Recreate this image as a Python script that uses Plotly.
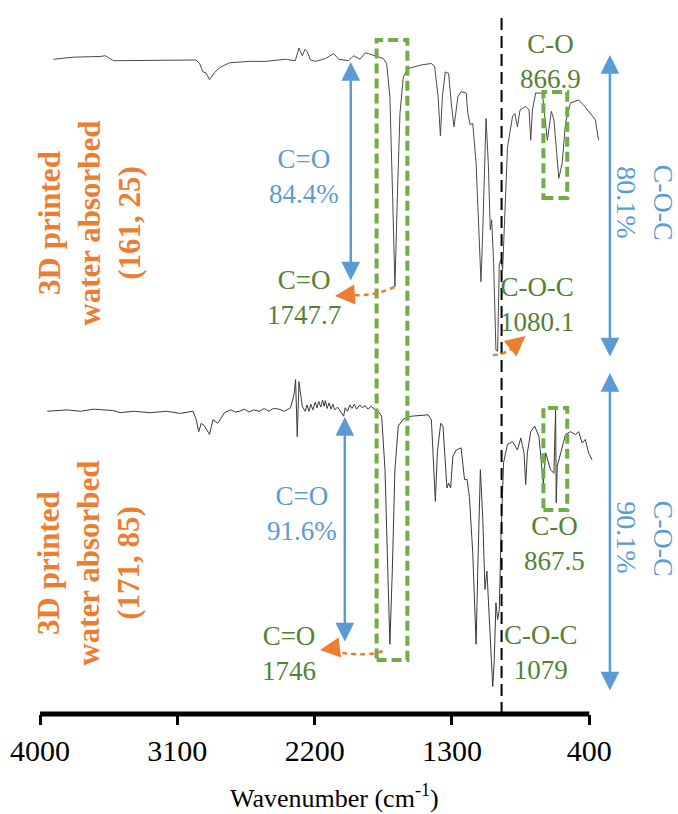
import plotly.graph_objects as go

# ---------------- data ----------------
tick_vals = [4000, 3100, 2200, 1300, 400]
tick_text = ["4000", "3100", "2200", "1300", "400"]

# upper spectrum: 3D printed, water absorbed (161, 25)  (offset transmittance, a.u.)
wn_top = [3913, 3779, 3605, 3572, 3518, 3388, 3173, 2978, 2954, 2932, 2913, 2889, 2856, 2824,
          2759, 2628, 2522, 2392, 2327, 2303, 2281, 2264, 2249, 2227, 2195, 2130, 2075, 2042,
          1977, 1945, 1902, 1869, 1847, 1793, 1750, 1728, 1707, 1689, 1674, 1658, 1641, 1619,
          1587, 1500, 1435, 1414, 1391, 1376, 1363, 1344, 1322, 1305, 1287, 1261, 1240, 1207,
          1196, 1181, 1164, 1142, 1110, 1098, 1077, 1062, 1049, 1040, 1027, 1012, 1001, 990,
          979, 968, 958, 936, 903, 888, 871, 854, 817, 795, 784, 773, 752, 708, 675, 649, 632,
          610, 600, 578, 556, 524, 470, 437, 393, 361, 339]
t_top = [93.0, 93.3, 93.4, 93.5, 92.8, 92.8, 92.8, 92.9, 92.4, 91.2, 91.1, 90.1, 91.1, 91.8,
         92.5, 92.7, 92.7, 93.0, 92.8, 94.6, 93.5, 94.4, 94.1, 92.9, 92.7, 93.1, 93.8, 93.0,
         92.8, 93.5, 93.0, 93.9, 93.8, 93.4, 93.1, 92.4, 87.7, 73.5, 60.7, 73.5, 85.3, 90.5,
         91.7, 92.2, 92.4, 92.0, 87.7, 82.1, 87.7, 91.2, 91.0, 86.8, 83.4, 87.7, 88.4, 88.2,
         85.3, 83.7, 83.9, 78.2, 61.4, 68.8, 84.6, 78.2, 68.8, 70.2, 64.0, 51.7, 51.5, 64.0,
         64.5, 63.1, 68.8, 80.6, 84.9, 85.3, 83.4, 85.8, 86.3, 85.8, 81.5, 85.8, 88.2, 88.2,
         81.5, 85.6, 84.4, 79.2, 76.1, 78.2, 83.9, 86.8, 87.2, 86.5, 85.3, 84.4, 81.5]

# lower spectrum: 3D printed, water absorbed (171, 85)
wn_bot = [3952, 3822, 3735, 3648, 3518, 3475, 3388, 3279, 3171, 3080, 2997, 2976, 2960, 2943,
          2921, 2889, 2867, 2835, 2791, 2750, 2720, 2693, 2660, 2630, 2600, 2563, 2530, 2500,
          2470, 2433, 2400, 2358, 2335, 2325, 2314, 2303, 2281, 2262, 2250, 2238, 2225, 2212,
          2196, 2185, 2173, 2160, 2148, 2138, 2130, 2118, 2105, 2093, 2080, 2068, 2050, 2030,
          2010, 2000, 1985, 1970, 1956, 1940, 1925, 1905, 1888, 1869, 1850, 1830, 1804, 1780,
          1761, 1739, 1722, 1707, 1691, 1674, 1652, 1619, 1565, 1457, 1435, 1424, 1409, 1396,
          1374, 1359, 1344, 1333, 1322, 1309, 1294, 1272, 1240, 1218, 1201, 1186, 1164, 1142,
          1131, 1114, 1098, 1084, 1071, 1055, 1033, 1023, 1012, 1001, 990, 979, 962, 936, 903,
          871, 849, 828, 817, 806, 784, 758, 730, 701, 686, 654, 632, 621, 617, 610, 589, 556,
          524, 491, 470, 447, 426, 405, 382]
t_bot = [43.0, 43.2, 43.0, 43.3, 43.1, 42.8, 43.0, 42.8, 43.0, 42.7, 43.0, 41.8, 40.1, 41.3,
         40.9, 39.7, 41.8, 41.3, 42.8, 43.2, 42.9, 43.0, 43.3, 42.9, 43.2, 43.0, 43.4, 43.0,
         43.4, 43.3, 43.0, 43.5, 45.4, 47.5, 39.4, 47.2, 43.7, 43.0, 43.9, 43.0, 44.0, 43.2,
         44.3, 43.5, 44.4, 43.6, 44.6, 43.7, 44.5, 43.4, 44.2, 43.3, 44.0, 43.2, 43.6, 42.9,
         42.3, 43.5, 43.0, 43.9, 43.4, 44.0, 43.3, 43.9, 43.5, 43.8, 43.3, 43.7, 43.2, 42.9,
         42.3, 34.7, 20.5, 9.9, 20.5, 34.7, 40.9, 41.9, 42.3, 42.5, 41.8, 37.1, 30.2, 37.1,
         41.3, 40.9, 34.7, 32.1, 32.8, 32.1, 36.6, 37.5, 37.8, 33.3, 33.3, 30.9, 22.9, 9.9,
         20.5, 34.7, 27.6, 17.7, 20.3, 13.4, 3.9, 7.7, 15.8, 13.4, 14.8, 25.2, 35.7, 38.3, 38.7,
         37.5, 39.2, 37.1, 32.6, 37.1, 40.1, 40.9, 39.4, 32.6, 37.1, 34.7, 34.2, 43.2, 30.0,
         35.2, 37.1, 39.7, 40.1, 39.7, 40.1, 38.5, 39.0, 37.1, 36.1]

dashed_line_wn = 975

# ---------------- layout helpers ----------------
W, H = 678, 814
ML, MR, MT, MB = 36, 78, 10, 100
PW, PH = W - ML - MR, H - MT - MB


def px(x):
    return (x - ML) / PW


def py(y):
    return (H - MB - y) / PH


SERIF = "Liberation Serif"
BLUE = "#5B9BD5"
GREEN_TXT = "#548235"
GREEN_BOX = "#70AD47"
ORANGE = "#ED7D31"

fig = go.Figure()
fig.add_trace(go.Scatter(x=wn_top, y=t_top, mode="lines",
                         line=dict(color="#4a4a4a", width=1), hoverinfo="skip"))
fig.add_trace(go.Scatter(x=wn_bot, y=t_bot, mode="lines",
                         line=dict(color="#3a3a3a", width=1), hoverinfo="skip"))

shapes = []
# x axis line (thick)
shapes.append(dict(type="line", xref="x", yref="paper", x0=4000, x1=400, y0=0, y1=0,
                   line=dict(color="black", width=5)))
# dashed vertical line
shapes.append(dict(type="line", xref="x", yref="paper", x0=dashed_line_wn, x1=dashed_line_wn,
                   y0=0, y1=py(14), line=dict(color="black", width=2, dash="12px,6px")))
# green dashed boxes
for (x0, y0, x1, y1) in [(375, 40, 406, 660), (543, 92, 567, 198), (543, 408, 567, 510)]:
    shapes.append(dict(type="rect", xref="paper", yref="paper",
                       x0=px(x0), x1=px(x1), y0=py(y1), y1=py(y0),
                       line=dict(color=GREEN_BOX, width=4, dash="10px,5px")))


def qpath(p0, c, p1):
    return "M {} {} Q {} {} {} {}".format(px(p0[0]), py(p0[1]), px(c[0]), py(c[1]),
                                          px(p1[0]), py(p1[1]))


# orange dashed curved arrows (bodies)
for p0, c, p1 in [((393, 287), (372, 297), (345, 295)),
                  ((492, 355), (506, 355), (516, 344)),
                  ((381, 651), (368, 657), (333, 652))]:
    shapes.append(dict(type="path", xref="paper", yref="paper", path=qpath(p0, c, p1),
                       line=dict(color=ORANGE, width=2.5, dash="5px,4px")))

fig.update_layout(shapes=shapes)

ann = []


def text(x, y, s, color, size, angle=0, bold=False):
    if bold:
        s = "<br>".join("<b>%s</b>" % t for t in s.split("<br>"))
    ann.append(dict(xref="paper", yref="paper", x=px(x), y=py(y), text=s, showarrow=False,
                    xanchor="center", yanchor="middle", textangle=angle,
                    font=dict(family=SERIF, size=size, color=color)))


def darrow(x, ytop, ybot, color=BLUE):
    ann.append(dict(xref="paper", yref="paper", x=px(x), y=py(ytop), text="",
                    showarrow=True, axref="pixel", ayref="pixel", ax=0, ay=ybot - ytop,
                    arrowside="end+start", arrowhead=2, arrowsize=1.5, arrowwidth=2.5,
                    arrowcolor=color, standoff=0, startstandoff=0))


def head(x, y, dx, dy, color=ORANGE):
    ann.append(dict(xref="paper", yref="paper", x=px(x), y=py(y), text="",
                    showarrow=True, axref="pixel", ayref="pixel", ax=dx, ay=dy,
                    arrowhead=2, arrowsize=1.6, arrowwidth=2.5, arrowcolor=color,
                    standoff=0))


# blue double arrows
darrow(349, 62, 282)
darrow(343, 417, 643)
darrow(610, 55, 358)
darrow(610, 373, 692)

# orange arrow heads
head(333, 296, 14, -1)
head(525, 336, -11, 9)
head(318, 650, 16, -2)

# texts
text(302, 176, "C=O<br>84.4%", BLUE, 27)
text(302, 297, "C=O<br>1747.7", GREEN_TXT, 27)
text(300, 513, "C=O<br>91.6%", BLUE, 27)
text(287, 653, "C=O<br>1746", GREEN_TXT, 27)
text(550, 62, "C-O<br>866.9", GREEN_TXT, 27)
text(537, 304, "C-O-C<br>1080.1", GREEN_TXT, 27)
text(554, 543, "C-O<br>867.5", GREEN_TXT, 27)
text(541, 652, "C-O-C<br>1079", GREEN_TXT, 27)
text(627, 202, "80.1%", BLUE, 28, angle=90)
text(664, 202, "C-O-C", BLUE, 28, angle=90)
text(627, 537, "90.1%", BLUE, 28, angle=90)
text(664, 538, "C-O-C", BLUE, 28, angle=90)
text(86, 223, "3D printed<br>water absorbed<br>(161, 25)", ORANGE, 31, angle=-90, bold=True)
text(85, 563, "3D printed<br>water absorbed<br>(171, 85)", ORANGE, 31, angle=-90, bold=True)
text(333, 796, "Wavenumber (cm<sup>-1</sup>)", "black", 26)

fig.update_layout(
    annotations=ann,
    width=W, height=H,
    margin=dict(l=ML, r=MR, t=MT, b=MB),
    paper_bgcolor="white", plot_bgcolor="white",
    showlegend=False,
    font=dict(family=SERIF),
    xaxis=dict(range=[4000, 330], tickvals=tick_vals, ticktext=tick_text,
               ticks="outside", ticklen=10, tickwidth=3, tickcolor="black",
               showline=False, showgrid=False, zeroline=False,
               tickfont=dict(family=SERIF, size=30, color="black")),
    yaxis=dict(range=[0, 100], visible=False, showgrid=False, zeroline=False),
)

fig.write_html("out.html", config={"displayModeBar": False},
               post_script="document.body.style.margin='0';")
